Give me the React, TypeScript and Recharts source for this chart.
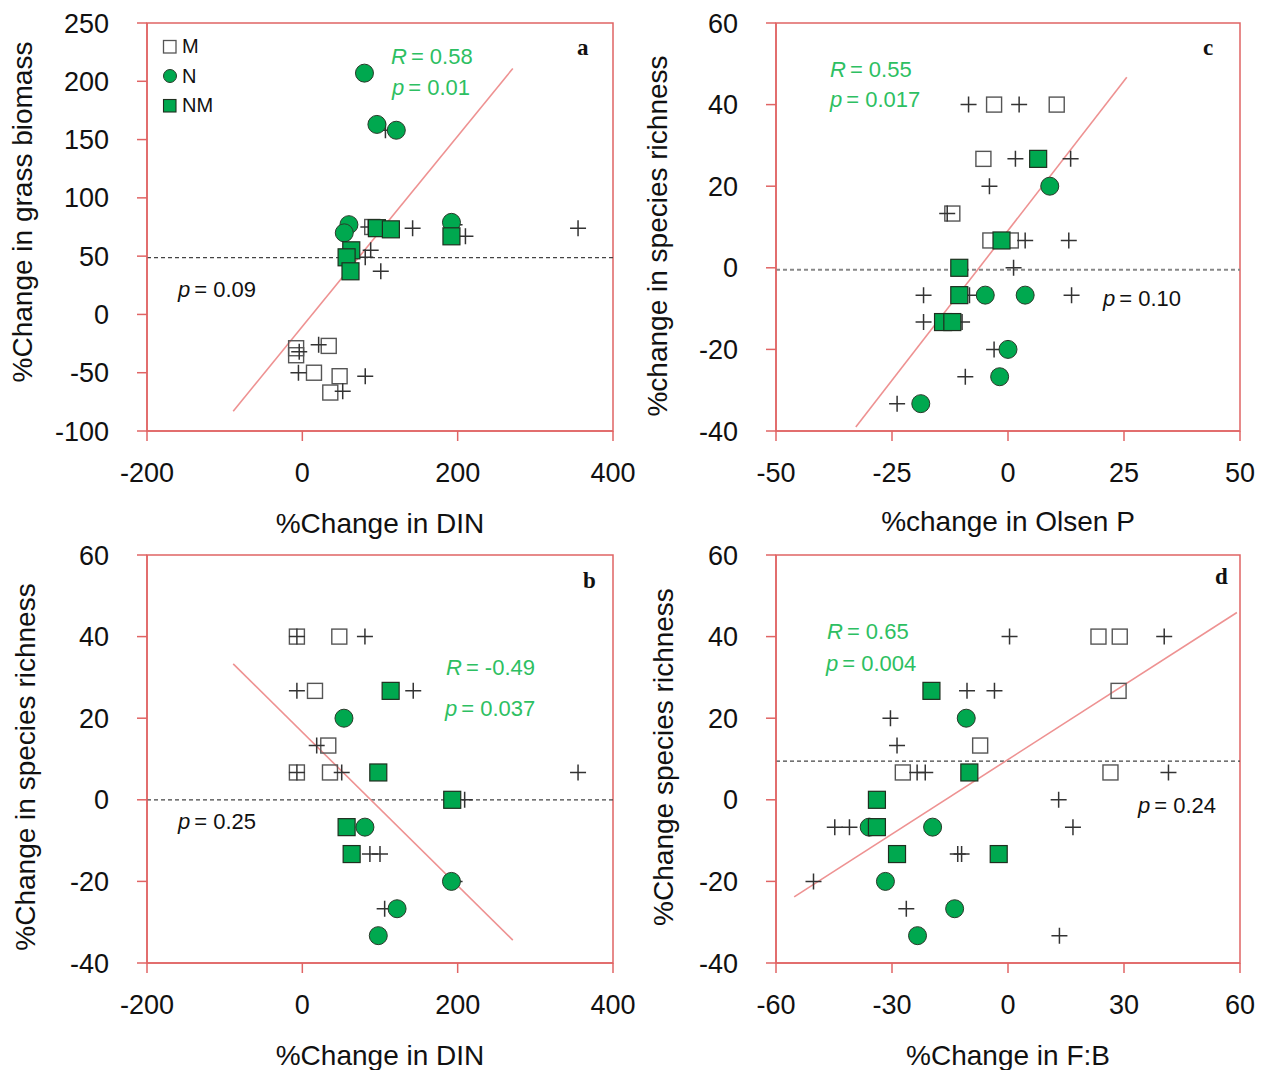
import React from 'react'
import {
  ScatterChart,
  Scatter,
  XAxis,
  YAxis,
  ReferenceLine,
  ReferenceArea,
} from 'recharts'

type Pt = { x: number; y: number }

// axis ticks
const dinTicks = [-200, 0, 200, 400]
const biomassTicks = [-100, -50, 0, 50, 100, 150, 200, 250]
const richnessTicks = [-40, -20, 0, 20, 40, 60]
const olsenTicks = [-50, -25, 0, 25, 50]
const fbTicks = [-60, -30, 0, 30, 60]

// panel a: %change DIN vs grass biomass
const aM: Pt[] = [
  { x: 90, y: 75 }, { x: -8, y: -29 }, { x: -8, y: -35 }, { x: 34, y: -27 },
  { x: 15, y: -50 }, { x: 48, y: -53 }, { x: 36, y: -67 },
]
const aN: Pt[] = [
  { x: 80, y: 207 }, { x: 96, y: 163 }, { x: 121, y: 158 }, { x: 60, y: 77 },
  { x: 54, y: 70 }, { x: 192, y: 79 },
]
const aNM: Pt[] = [
  { x: 96, y: 74 }, { x: 114, y: 73 }, { x: 192, y: 67 }, { x: 63, y: 55 },
  { x: 57, y: 49 }, { x: 62, y: 37 },
]
const aPlus: Pt[] = [
  { x: 107, y: 158 }, { x: 85, y: 75 }, { x: 142, y: 74 }, { x: 196, y: 77 },
  { x: 210, y: 67 }, { x: 355, y: 74 }, { x: 88, y: 55 }, { x: 81, y: 49 },
  { x: 101, y: 37 }, { x: -4, y: -32 }, { x: 21, y: -26 }, { x: -5, y: -50 },
  { x: 81, y: -53 }, { x: 52, y: -66 },
]
const aFit: Pt[] = [{ x: -89, y: -83 }, { x: 271, y: 211 }]
const aBase = 48.7

// panel c: %change Olsen P vs species richness
const cM: Pt[] = [
  { x: -3, y: 40 }, { x: 10.5, y: 40 }, { x: -5.3, y: 26.7 }, { x: -12, y: 13.3 },
  { x: -3.8, y: 6.7 }, { x: 0.6, y: 6.7 },
]
const cN: Pt[] = [
  { x: 9, y: 20 }, { x: -4.9, y: -6.7 }, { x: 3.7, y: -6.7 }, { x: 0, y: -20 },
  { x: -1.8, y: -26.7 }, { x: -18.8, y: -33.3 },
]
const cNM: Pt[] = [
  { x: 6.5, y: 26.7 }, { x: -1.4, y: 6.7 }, { x: -10.5, y: 0 }, { x: -10.5, y: -6.7 },
  { x: -14, y: -13.3 }, { x: -12, y: -13.3 },
]
const cPlus: Pt[] = [
  { x: -8.5, y: 40 }, { x: 2.4, y: 40 }, { x: 1.6, y: 26.7 }, { x: 13.5, y: 26.7 },
  { x: -4, y: 20 }, { x: -13.1, y: 13.3 }, { x: 3.7, y: 6.7 }, { x: 13.1, y: 6.7 },
  { x: 1.2, y: 0 }, { x: -18.2, y: -6.7 }, { x: -8.3, y: -6.7 }, { x: 13.7, y: -6.7 },
  { x: -18.2, y: -13.3 }, { x: -9.9, y: -13.3 }, { x: -3, y: -20 }, { x: -9.2, y: -26.7 },
  { x: -23.9, y: -33.3 },
]
const cFit: Pt[] = [{ x: -32.8, y: -39 }, { x: 25.6, y: 46.7 }]
const cBase = -0.5

// panel b: %change DIN vs species richness
const bM: Pt[] = [
  { x: -7, y: 40 }, { x: 47.6, y: 40 }, { x: 16.3, y: 26.7 }, { x: 33.4, y: 13.3 },
  { x: -7, y: 6.7 }, { x: 35.6, y: 6.7 },
]
const bN: Pt[] = [
  { x: 53.6, y: 20 }, { x: 80.6, y: -6.7 }, { x: 192, y: -20 }, { x: 122, y: -26.7 },
  { x: 97.8, y: -33.3 },
]
const bNM: Pt[] = [
  { x: 113.7, y: 26.7 }, { x: 97.8, y: 6.7 }, { x: 193, y: 0 }, { x: 57, y: -6.7 },
  { x: 63.5, y: -13.3 },
]
const bPlus: Pt[] = [
  { x: -7, y: 40 }, { x: 80.6, y: 40 }, { x: -7, y: 26.7 }, { x: 142.8, y: 26.7 },
  { x: 18.5, y: 13.3 }, { x: -7, y: 6.7 }, { x: 50.7, y: 6.7 }, { x: 355, y: 6.7 },
  { x: 209, y: 0 }, { x: 87, y: -13.3 }, { x: 100, y: -13.3 }, { x: 196, y: -20 },
  { x: 106, y: -26.7 },
]
const bFit: Pt[] = [{ x: -89, y: 33.3 }, { x: 271, y: -34.4 }]
const bBase = 0

// panel d: %change F:B vs species richness
const dM: Pt[] = [
  { x: 23.4, y: 40 }, { x: 28.9, y: 40 }, { x: 28.6, y: 26.7 }, { x: -7.2, y: 13.3 },
  { x: -27.2, y: 6.7 }, { x: 26.5, y: 6.7 },
]
const dN: Pt[] = [
  { x: -10.8, y: 20 }, { x: -35.9, y: -6.7 }, { x: -19.5, y: -6.7 }, { x: -31.7, y: -20 },
  { x: -13.8, y: -26.7 }, { x: -23.4, y: -33.3 },
]
const dNM: Pt[] = [
  { x: -19.8, y: 26.7 }, { x: -10, y: 6.7 }, { x: -33.9, y: 0 }, { x: -33.9, y: -6.7 },
  { x: -28.7, y: -13.3 }, { x: -2.4, y: -13.3 },
]
const dPlus: Pt[] = [
  { x: 0.4, y: 40 }, { x: 40.4, y: 40 }, { x: -10.6, y: 26.7 }, { x: -3.5, y: 26.7 },
  { x: -30.4, y: 20 }, { x: -28.7, y: 13.3 }, { x: -23.5, y: 6.7 }, { x: -21.4, y: 6.7 },
  { x: 41.5, y: 6.7 }, { x: 13.1, y: 0 }, { x: -44.8, y: -6.7 }, { x: -41, y: -6.7 },
  { x: 16.8, y: -6.7 }, { x: -13, y: -13.3 }, { x: -12, y: -13.3 }, { x: -50.3, y: -20 },
  { x: -26.3, y: -26.7 }, { x: 13.3, y: -33.3 },
]
const dFit: Pt[] = [{ x: -55.3, y: -23.8 }, { x: 59.2, y: 45.9 }]
const dBase = 9.5

const FONT = '"Liberation Sans", Arial, sans-serif'
const SERIF = '"Liberation Serif", "Times New Roman", serif'
const RED = '#e06464'
const FIT = '#ee9292'
const GREEN = '#00a84f'
const TEXT_GREEN = '#2dbf62'

const OpenSquare = (p: any) => (
  <rect x={p.cx - 7.5} y={p.cy - 7.5} width={15} height={15} fill="none" stroke="#555" strokeWidth={1.4} />
)
const GreenSquare = (p: any) => (
  <rect x={p.cx - 8.5} y={p.cy - 8.5} width={17} height={17} fill={GREEN} stroke="#1f2f1f" strokeWidth={1.2} />
)
const GreenDot = (p: any) => (
  <circle cx={p.cx} cy={p.cy} r={9} fill={GREEN} stroke="#2a3a2a" strokeWidth={1} />
)
const Plus = (p: any) => (
  <path
    d={`M${p.cx - 8},${p.cy}H${p.cx + 8}M${p.cx},${p.cy - 8}V${p.cy + 8}`}
    stroke="#333"
    strokeWidth={1.5}
    fill="none"
  />
)

type PanelProps = {
  left: number
  top: number
  width: number
  height: number
  marginTop: number
  yAxisWidth: number
  marginRight: number
  xAxisHeight: number
  xDomain: [number, number]
  xTicks: number[]
  yDomain: [number, number]
  yTicks: number[]
  xTitle: string
  xTitleOffset: number
  yTitle: string
  yTitleX: number
  yTitleDy: number
  m: Pt[]
  n: Pt[]
  nm: Pt[]
  plus: Pt[]
  fit: Pt[]
  base: number
  baseColor: string
  baseWidth: number
  children?: React.ReactNode
}

const Panel = (p: PanelProps) => {
  const plotH = p.height - p.marginTop - p.xAxisHeight
  const cy = p.marginTop + plotH / 2 + p.yTitleDy
  const tickStyle = { fill: '#111', fontSize: 27, fontFamily: FONT }
  return (
    <div style={{ position: 'absolute', left: p.left, top: p.top }}>
      <ScatterChart
        width={p.width}
        height={p.height}
        margin={{ top: p.marginTop, right: p.marginRight, left: 0, bottom: 0 }}
      >
        <XAxis
          type="number"
          dataKey="x"
          domain={p.xDomain}
          ticks={p.xTicks}
          interval={0}
          height={p.xAxisHeight}
          axisLine={{ stroke: RED, strokeWidth: 1.5 }}
          tickLine={{ stroke: RED, strokeWidth: 1.5 }}
          tickSize={10}
          tickMargin={22}
          tick={tickStyle}
          label={{
            value: p.xTitle,
            position: 'insideBottom',
            offset: p.xTitleOffset,
            style: { fill: '#111', fontSize: 28, fontFamily: FONT },
          }}
        />
        <YAxis
          type="number"
          dataKey="y"
          domain={p.yDomain}
          ticks={p.yTicks}
          interval={0}
          width={p.yAxisWidth}
          axisLine={{ stroke: RED, strokeWidth: 1.5 }}
          tickLine={{ stroke: RED, strokeWidth: 1.5 }}
          tickSize={10}
          tickMargin={28}
          tick={tickStyle}
        />
        <ReferenceArea
          x1={p.xDomain[0]}
          x2={p.xDomain[1]}
          y1={p.yDomain[0]}
          y2={p.yDomain[1]}
          fill="none"
          stroke={RED}
          strokeWidth={1.5}
        />
        <ReferenceLine
          y={p.base}
          stroke={p.baseColor}
          strokeWidth={p.baseWidth}
          strokeDasharray="4 3"
        />
        <Scatter data={p.m} shape={OpenSquare} isAnimationActive={false} />
        <Scatter data={p.plus} shape={Plus} isAnimationActive={false} />
        <Scatter data={p.n} shape={GreenDot} isAnimationActive={false} />
        <Scatter data={p.nm} shape={GreenSquare} isAnimationActive={false} />
        <ReferenceLine
          segment={[p.fit[0], p.fit[1]]}
          stroke={FIT}
          strokeWidth={1.6}
        />
        <text
          x={p.yTitleX}
          y={cy}
          transform={`rotate(-90 ${p.yTitleX} ${cy})`}
          textAnchor="middle"
          fill="#111"
          fontSize={28}
          fontFamily={FONT}
        >
          {p.yTitle}
        </text>
        {p.children}
      </ScatterChart>
    </div>
  )
}

const Stat = ({ x, y, sym, rest, color }: { x: number; y: number; sym: string; rest: string; color: string }) => (
  <text x={x} y={y} fill={color} fontSize={22} fontFamily={FONT}>
    <tspan fontStyle="italic">{sym}</tspan>
    <tspan dx={4}>{rest}</tspan>
  </text>
)

const Letter = ({ x, y, t }: { x: number; y: number; t: string }) => (
  <text x={x} y={y} fontSize={23} fontWeight="bold" fontFamily={SERIF} fill="#111">
    {t}
  </text>
)

export default function App() {
  return (
    <div style={{ position: 'absolute', left: 0, top: 0, width: 1265, height: 1072, background: '#fff', overflow: 'hidden' }}>
      <Panel
        left={0}
        top={0}
        width={660}
        height={545}
        marginTop={23}
        yAxisWidth={147}
        marginRight={47}
        xAxisHeight={114}
        xDomain={[-200, 400]}
        xTicks={dinTicks}
        yDomain={[-100, 250]}
        yTicks={biomassTicks}
        xTitle="%Change in DIN"
        xTitleOffset={12}
        yTitle="%Change in grass biomass"
        yTitleX={32}
        yTitleDy={-15}
        m={aM}
        n={aN}
        nm={aNM}
        plus={aPlus}
        fit={aFit}
        base={aBase}
        baseColor="#444"
        baseWidth={1.2}
      >
        <Stat x={391} y={64} sym="R" rest="= 0.58" color={TEXT_GREEN} />
        <Stat x={392} y={95} sym="p" rest="= 0.01" color={TEXT_GREEN} />
        <Stat x={178} y={297} sym="p" rest="= 0.09" color="#111" />
        <Letter x={577} y={55} t="a" />
        <rect x={163.5} y={40.5} width={12.5} height={12.5} fill="#fff" stroke="#555" strokeWidth={1.3} />
        <text x={182} y={53} fontSize={20} fontFamily={FONT} fill="#111">M</text>
        <circle cx={170} cy={76} r={6.5} fill={GREEN} stroke="#2a3a2a" strokeWidth={1} />
        <text x={182} y={83} fontSize={20} fontFamily={FONT} fill="#111">N</text>
        <rect x={163.5} y={99.5} width={12.5} height={12.5} fill={GREEN} stroke="#1f2f1f" strokeWidth={1.1} />
        <text x={182} y={112} fontSize={20} fontFamily={FONT} fill="#111">NM</text>
      </Panel>

      <Panel
        left={630}
        top={0}
        width={630}
        height={545}
        marginTop={23}
        yAxisWidth={146}
        marginRight={20}
        xAxisHeight={114}
        xDomain={[-50, 50]}
        xTicks={olsenTicks}
        yDomain={[-40, 60]}
        yTicks={richnessTicks}
        xTitle="%change in Olsen P"
        xTitleOffset={14}
        yTitle="%change in species richness"
        yTitleX={37}
        yTitleDy={9}
        m={cM}
        n={cN}
        nm={cNM}
        plus={cPlus}
        fit={cFit}
        base={cBase}
        baseColor="#888"
        baseWidth={2}
      >
        <Stat x={200} y={77} sym="R" rest="= 0.55" color={TEXT_GREEN} />
        <Stat x={200} y={107} sym="p" rest="= 0.017" color={TEXT_GREEN} />
        <Stat x={473} y={306} sym="p" rest="= 0.10" color="#111" />
        <Letter x={573} y={55} t="c" />
      </Panel>

      <Panel
        left={0}
        top={530}
        width={660}
        height={540}
        marginTop={25}
        yAxisWidth={147}
        marginRight={47}
        xAxisHeight={107}
        xDomain={[-200, 400]}
        xTicks={dinTicks}
        yDomain={[-40, 60]}
        yTicks={richnessTicks}
        xTitle="%Change in DIN"
        xTitleOffset={5}
        yTitle="%Change in species richness"
        yTitleX={35}
        yTitleDy={8}
        m={bM}
        n={bN}
        nm={bNM}
        plus={bPlus}
        fit={bFit}
        base={bBase}
        baseColor="#444"
        baseWidth={1.2}
      >
        <Stat x={446} y={145} sym="R" rest="= -0.49" color={TEXT_GREEN} />
        <Stat x={445} y={186} sym="p" rest="= 0.037" color={TEXT_GREEN} />
        <Stat x={178} y={299} sym="p" rest="= 0.25" color="#111" />
        <Letter x={583} y={58} t="b" />
      </Panel>

      <Panel
        left={630}
        top={530}
        width={630}
        height={540}
        marginTop={25}
        yAxisWidth={146}
        marginRight={20}
        xAxisHeight={107}
        xDomain={[-60, 60]}
        xTicks={fbTicks}
        yDomain={[-40, 60]}
        yTicks={richnessTicks}
        xTitle="%Change in F:B"
        xTitleOffset={5}
        yTitle="%Change species richness"
        yTitleX={43}
        yTitleDy={-2}
        m={dM}
        n={dN}
        nm={dNM}
        plus={dPlus}
        fit={dFit}
        base={dBase}
        baseColor="#444"
        baseWidth={1.2}
      >
        <Stat x={197} y={109} sym="R" rest="= 0.65" color={TEXT_GREEN} />
        <Stat x={196} y={141} sym="p" rest="= 0.004" color={TEXT_GREEN} />
        <Stat x={508} y={283} sym="p" rest="= 0.24" color="#111" />
        <Letter x={585} y={54} t="d" />
      </Panel>
    </div>
  )
}
